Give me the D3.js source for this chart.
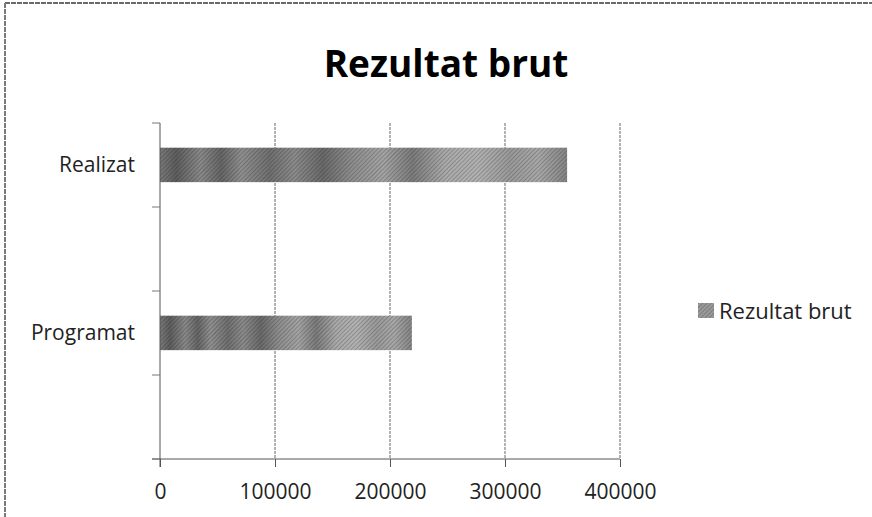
<!DOCTYPE html>
<html>
<head>
<meta charset="utf-8">
<script src="https://cdn.jsdelivr.net/npm/d3@7"></script>
<style>
  body { margin: 0; background: #fff; }
  text { font-family: "Open Sans", "DejaVu Sans", sans-serif; }
</style>
</head>
<body>
<div id="chart"></div>
<script>
// chart data
var categories = ["Realizat", "Programat"];
var values = [354000, 219000];
var seriesName = "Rezultat brut";
var xTicks = [0, 100000, 200000, 300000, 400000];
var titleText = "Rezultat brut";

var W = 872, H = 517;
var plot = { left: 160, right: 620, top: 123, bottom: 459 };

var svg = d3.select("#chart").append("svg")
    .attr("width", W)
    .attr("height", H);

// scanned-looking fill for the bars
var defs = svg.append("defs");
var grad = defs.append("linearGradient").attr("id", "barGrad");
var stops = [
    [0, "#7a7a7a"], [0.04, "#5e5e5e"], [0.1, "#8a8a8a"], [0.15, "#666"],
    [0.2, "#909090"], [0.27, "#707070"], [0.33, "#8c8c8c"], [0.4, "#6a6a6a"],
    [0.47, "#8e8e8e"], [0.55, "#a4a4a4"], [0.62, "#7c7c7c"], [0.7, "#aaaaaa"],
    [0.78, "#b2b2b2"], [0.86, "#9a9a9a"], [0.93, "#a8a8a8"], [1, "#858585"]
];
grad.selectAll("stop").data(stops).join("stop")
    .attr("offset", d => d[0])
    .attr("stop-color", d => d[1]);

var hatch = defs.append("pattern")
    .attr("id", "hatch")
    .attr("width", 3).attr("height", 3)
    .attr("patternUnits", "userSpaceOnUse")
    .attr("patternTransform", "rotate(45)");
hatch.append("rect").attr("width", 1).attr("height", 3).attr("fill", "#000").attr("opacity", 0.2);

// frame of the chart area (only top and left edges show)
svg.append("line").attr("x1", 5).attr("x2", W).attr("y1", 3).attr("y2", 3)
    .attr("stroke", "#6a6a6a").attr("stroke-width", 2).attr("stroke-dasharray", "5,1");
svg.append("line").attr("x1", 5).attr("x2", 5).attr("y1", 3).attr("y2", H)
    .attr("stroke", "#7a7a7a").attr("stroke-width", 2).attr("stroke-dasharray", "5,1");

// scales
var x = d3.scaleLinear()
    .domain([0, 400000])
    .range([plot.left, plot.right]);

var y = d3.scaleBand()
    .domain(categories)
    .range([plot.top, plot.bottom]);

// gridlines
svg.append("g")
    .selectAll("line")
    .data(xTicks.slice(1))
    .join("line")
    .attr("x1", d => x(d)).attr("x2", d => x(d))
    .attr("y1", plot.top).attr("y2", plot.bottom)
    .attr("stroke", "#666").attr("stroke-width", 1).attr("stroke-dasharray", "3,1");

// bars
var barOffset = 0.147, barSize = 0.205;
var bars = svg.append("g");
bars.selectAll("rect.bar")
    .data(categories)
    .join("rect")
    .attr("class", "bar")
    .attr("x", x(0))
    .attr("y", d => y(d) + y.bandwidth() * barOffset)
    .attr("width", (d, i) => x(values[i]) - x(0))
    .attr("height", y.bandwidth() * barSize)
    .attr("fill", "url(#barGrad)");
bars.selectAll("rect.hatch")
    .data(categories)
    .join("rect")
    .attr("class", "hatch")
    .attr("x", x(0))
    .attr("y", d => y(d) + y.bandwidth() * barOffset)
    .attr("width", (d, i) => x(values[i]) - x(0))
    .attr("height", y.bandwidth() * barSize)
    .attr("fill", "url(#hatch)");

// x axis
var xAxis = svg.append("g")
    .attr("transform", `translate(0,${plot.bottom})`)
    .call(d3.axisBottom(x).tickValues(xTicks).tickFormat(d3.format("d")).tickSize(8).tickPadding(17));
xAxis.select(".domain").attr("stroke", "#555").attr("d", `M${plot.left - 8},0H${plot.right}`);
xAxis.selectAll(".tick line").attr("stroke", "#555");
xAxis.selectAll(".tick text")
    .attr("font-size", "21px")
    .attr("fill", "#222")
    .attr("font-family", "'Open Sans', sans-serif");

// y axis line and ticks (at category edges and halfway)
var yTickPos = [];
categories.forEach(function (c) {
    yTickPos.push(y(c));
    yTickPos.push(y(c) + y.bandwidth() / 2);
});
yTickPos.push(plot.bottom);

var yAxis = svg.append("g");
yAxis.append("line")
    .attr("x1", x(0)).attr("x2", x(0))
    .attr("y1", plot.top).attr("y2", plot.bottom + 8)
    .attr("stroke", "#555");
yAxis.selectAll("line.tick")
    .data(yTickPos)
    .join("line")
    .attr("class", "tick")
    .attr("x1", x(0) - 8).attr("x2", x(0))
    .attr("y1", d => d).attr("y2", d => d)
    .attr("stroke", "#777");

// category labels, centred on the bars
yAxis.selectAll("text")
    .data(categories)
    .join("text")
    .attr("x", 135)
    .attr("y", d => y(d) + y.bandwidth() * (barOffset + barSize / 2))
    .attr("dy", "0.35em")
    .attr("text-anchor", "end")
    .attr("font-size", "21px")
    .attr("fill", "#222")
    .text(d => d);

// title
svg.append("text")
    .attr("x", 446)
    .attr("y", 77)
    .attr("text-anchor", "middle")
    .attr("font-size", "37px")
    .attr("font-weight", "bold")
    .attr("fill", "#000")
    .text(titleText);

// legend
var legend = svg.append("g").attr("transform", "translate(698,303)");
legend.append("rect")
    .attr("width", 16).attr("height", 15)
    .attr("fill", "#9a9a9a");
legend.append("rect")
    .attr("width", 16).attr("height", 15)
    .attr("fill", "url(#hatch)");
legend.append("text")
    .attr("x", 21)
    .attr("y", 8)
    .attr("dy", "0.35em")
    .attr("font-size", "22px")
    .attr("fill", "#222")
    .text(seriesName);
</script>
</body>
</html>
